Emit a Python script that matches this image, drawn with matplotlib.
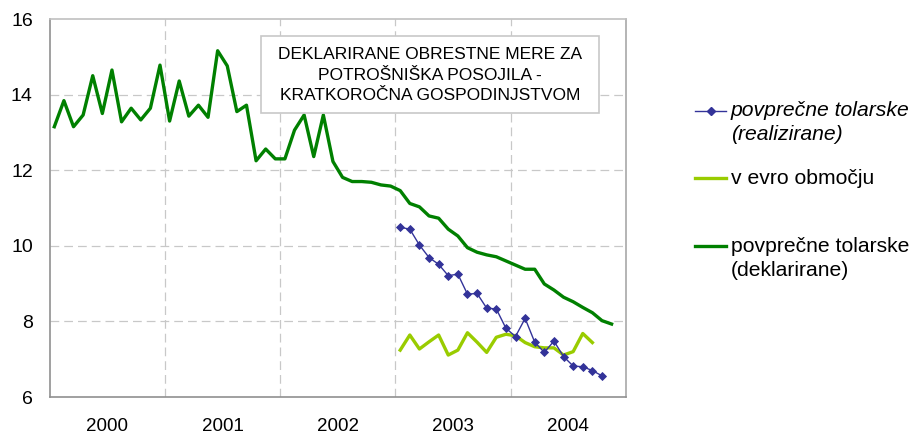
import matplotlib
matplotlib.use("Agg")
import matplotlib.pyplot as plt
from matplotlib.lines import Line2D
from matplotlib.patches import Rectangle
import numpy as np

plt.rcParams['font.family'] = ['Liberation Sans', 'DejaVu Sans']

years = [2000, 2001, 2002, 2003, 2004]
year_labels = ['2000', '2001', '2002', '2003', '2004']

# Monthly values starting Jan 2000
deklarirane = [13.15, 13.84, 13.15, 13.46, 14.5, 13.5, 14.65, 13.28, 13.64, 13.33, 13.64, 14.78,
               13.3, 14.36, 13.43, 13.72, 13.4, 15.16, 14.76, 13.55, 13.72, 12.25, 12.56, 12.3,
               12.3, 13.06, 13.46, 12.36, 13.46, 12.23, 11.81, 11.70, 11.70, 11.68, 11.61, 11.58,
               11.46, 11.12, 11.03, 10.79, 10.73, 10.44, 10.26, 9.95, 9.83, 9.76, 9.71, 9.60,
               9.49, 9.38, 9.38, 8.99, 8.83, 8.64, 8.52, 8.37, 8.23, 8.02, 7.93]
# Monthly values starting Jan 2003
realizirane = [10.49, 10.44, 10.02, 9.69, 9.51, 9.21, 9.25, 8.72, 8.74, 8.35, 8.33, 7.82,
               7.60, 8.08, 7.45, 7.18, 7.48, 7.07, 6.82, 6.80, 6.70, 6.56]
evro = [7.24, 7.64, 7.27, 7.46, 7.64, 7.11, 7.24, 7.70, 7.45, 7.18, 7.58, 7.66,
        7.62, 7.44, 7.33, 7.30, 7.30, 7.11, 7.20, 7.68, 7.44]

label_real = 'povprečne tolarske\n(realizirane)'
label_evro = 'v evro območju'
label_dekl = 'povprečne tolarske\n(deklarirane)'
box_text = 'DEKLARIRANE OBRESTNE MERE ZA\nPOTROŠNIŠKA POSOJILA -\nKRATKOROČNA GOSPODINJSTVOM'

def xs(start_year, n):
    return start_year + (np.arange(n) + 0.5) / 12.0

c_dark = '#008000'
c_light = '#99CC00'
c_blue = '#333399'

fig = plt.figure(figsize=(9.16, 4.34), dpi=100)
ax = fig.add_axes([49.5 / 916, 1 - 397 / 434, (626 - 49.5) / 916, (397 - 19) / 434])

ax.plot(xs(2000, len(deklarirane)), deklarirane, color=c_dark, lw=2.4, solid_joinstyle='round')
ax.plot(xs(2003, len(evro)), evro, color=c_light, lw=2.4, solid_joinstyle='round')
ax.plot(xs(2003, len(realizirane)), realizirane, color=c_blue, lw=1.0, marker='D',
        markersize=4.2, markeredgewidth=0.6)

ax.set_xlim(2000, 2005)
ax.set_ylim(6, 16)
ax.set_yticks([6, 8, 10, 12, 14, 16])
ax.set_yticklabels(['6', '8', '10', '12', '14', '16'], fontsize=14)
ax.set_xticks([y + 0.5 for y in years])
ax.set_xticklabels(year_labels, fontsize=13.5)
ax.tick_params(axis='x', which='both', length=0, pad=15)
ax.tick_params(axis='y', length=0, pad=12)
ax.grid(False)
for y in [8, 10, 12, 14]:
    ax.axhline(y, color='#c8c8c8', lw=0.9, ls=(0, (7, 4)), zorder=0)
for x in [2001, 2002, 2003, 2004]:
    ax.axvline(x, color='#c8c8c8', lw=0.9, ls=(0, (7, 4)), zorder=0)
for side in ['left', 'bottom']:
    ax.spines[side].set_color('#909090')
    ax.spines[side].set_linewidth(1.2)
for side in ['top', 'right']:
    ax.spines[side].set_color('#c0c0c0')
    ax.spines[side].set_linewidth(1.2)
ax.spines['right'].set_color('#a8a8a8')

# Title box
W, H = 916.0, 434.0
fig.patches.append(Rectangle((260.7 / W, 1 - 113.3 / H), (599 - 260.7) / W, (113.3 - 36) / H,
                             transform=fig.transFigure, facecolor='white',
                             edgecolor='#c8c8c8', lw=1.2, zorder=5))
fig.text(430 / W, 1 - 75 / H, box_text, ha='center', va='center', fontsize=12.5,
         linespacing=1.45, zorder=6)

# Legend (manual)
def key(y, color, lw, marker=None):
    fig.add_artist(Line2D([695 / W, 726 / W], [1 - y / H, 1 - y / H], transform=fig.transFigure,
                          color=color, lw=lw, marker=None))
    if marker:
        fig.add_artist(Line2D([710.5 / W], [1 - y / H], transform=fig.transFigure,
                              color=color, marker=marker, markersize=4.2, lw=0))

LF = 15.2
key(111, c_blue, 1.0, marker='D')
fig.text(731 / W, 1 - 111 / H, label_real.split('\n')[0], fontsize=LF, style='italic', va='center')
fig.text(731 / W, 1 - 135 / H, label_real.split('\n')[1], fontsize=LF, style='italic', va='center')
key(178, c_light, 2.4)
fig.text(731 / W, 1 - 178 / H, label_evro, fontsize=LF, va='center')
key(246, c_dark, 2.4)
fig.text(731 / W, 1 - 246 / H, label_dekl.split('\n')[0], fontsize=LF, va='center')
fig.text(731 / W, 1 - 271 / H, label_dekl.split('\n')[1], fontsize=LF, va='center')

fig.savefig('out.png', dpi=100)
